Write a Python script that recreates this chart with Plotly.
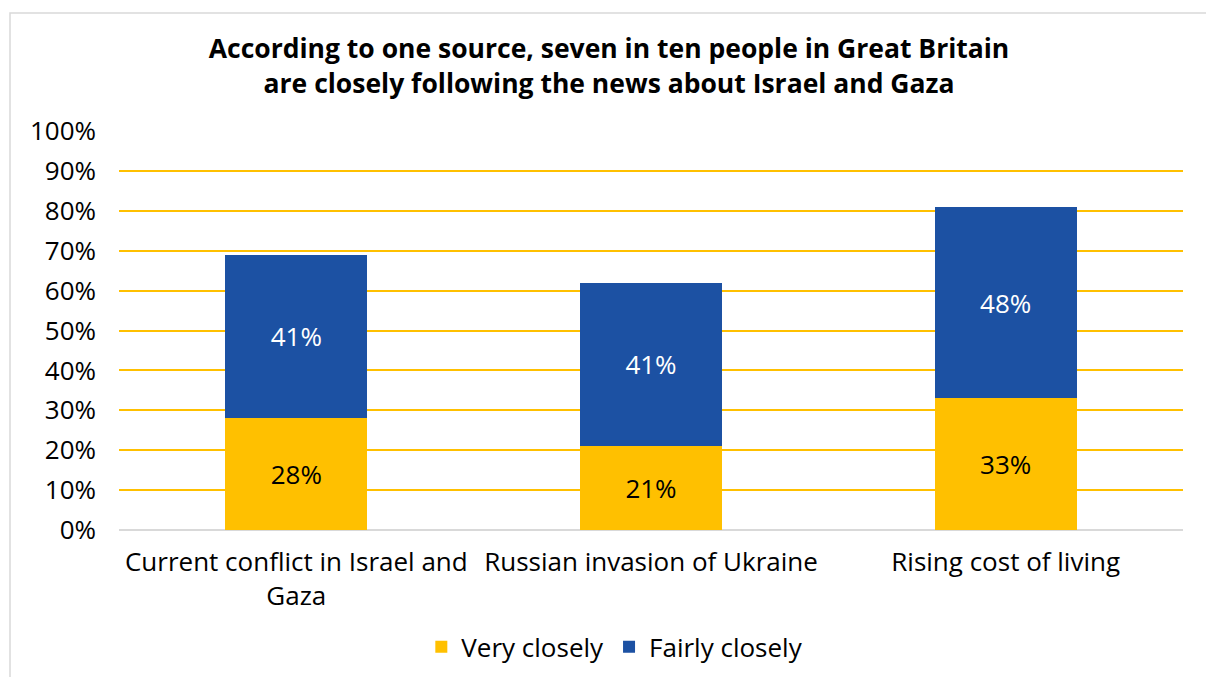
import plotly.graph_objects as go

categories = ["Current conflict in Israel and<br>Gaza", "Russian invasion of Ukraine", "Rising cost of living"]
very_closely = [28, 21, 33]
fairly_closely = [41, 41, 48]
y_ticks = [0, 10, 20, 30, 40, 50, 60, 70, 80, 90, 100]
y_tick_labels = [f"{v}%" for v in y_ticks]

YELLOW = "#FFC000"
BLUE = "#1C51A3"
FONT = "Open Sans, Noto Sans, sans-serif"
SIZE = 26

fig = go.Figure()
fig.add_trace(go.Bar(
    x=categories, y=very_closely, name="Very closely",
    marker=dict(color=YELLOW, line=dict(width=0)),
    text=[f"{v}%" for v in very_closely], textposition="inside",
    insidetextanchor="middle", textfont=dict(color="#000000", size=SIZE, family=FONT),
))
fig.add_trace(go.Bar(
    x=categories, y=fairly_closely, name="Fairly closely",
    marker=dict(color=BLUE, line=dict(width=0)),
    text=[f"{v}%" for v in fairly_closely], textposition="inside",
    insidetextanchor="middle", textfont=dict(color="#FFFFFF", size=SIZE, family=FONT),
))

fig.update_layout(
    width=1206, height=677,
    barmode="stack", bargap=0.6,
    paper_bgcolor="white", plot_bgcolor="white",
    font=dict(family=FONT, size=SIZE, color="#000000"),
    margin=dict(l=119, r=23, t=131, b=147, autoexpand=False),
    title=dict(
        text="<b>According to one source, seven in ten people in Great Britain<br>are closely following the news about Israel and Gaza</b>",
        x=0.505, xanchor="center", y=0.914, yanchor="top",
        font=dict(size=26.5, family=FONT, color="#000000"),
    ),
    xaxis=dict(showgrid=False, showline=False, ticks="", tickfont=dict(size=SIZE),
               ticklabelstandoff=14, automargin=False),
    yaxis=dict(range=[0, 100], tickvals=y_ticks, ticktext=y_tick_labels,
               showgrid=True, gridcolor=YELLOW, gridwidth=1.5,
               zeroline=True, zerolinecolor="#D9D9D9", zerolinewidth=2,
               ticks="", ticklen=0, tickfont=dict(size=SIZE), showline=False,
               ticklabelstandoff=22, automargin=False),
    legend=dict(orientation="h", x=0.466, xanchor="center", y=-0.293, yanchor="middle",
                font=dict(size=SIZE), traceorder="normal", itemwidth=30),
    uniformtext=dict(minsize=10, mode="show"),
    showlegend=True,
)

# outer chart frame
fig.add_shape(type="rect", xref="paper", yref="paper",
              x0=-109 / 1064, x1=1.03, y0=-0.5, y1=(399 + 118) / 399,
              line=dict(color="#D9D9D9", width=1.5), fillcolor="rgba(0,0,0,0)", layer="below")

fig.write_html("out.html")
